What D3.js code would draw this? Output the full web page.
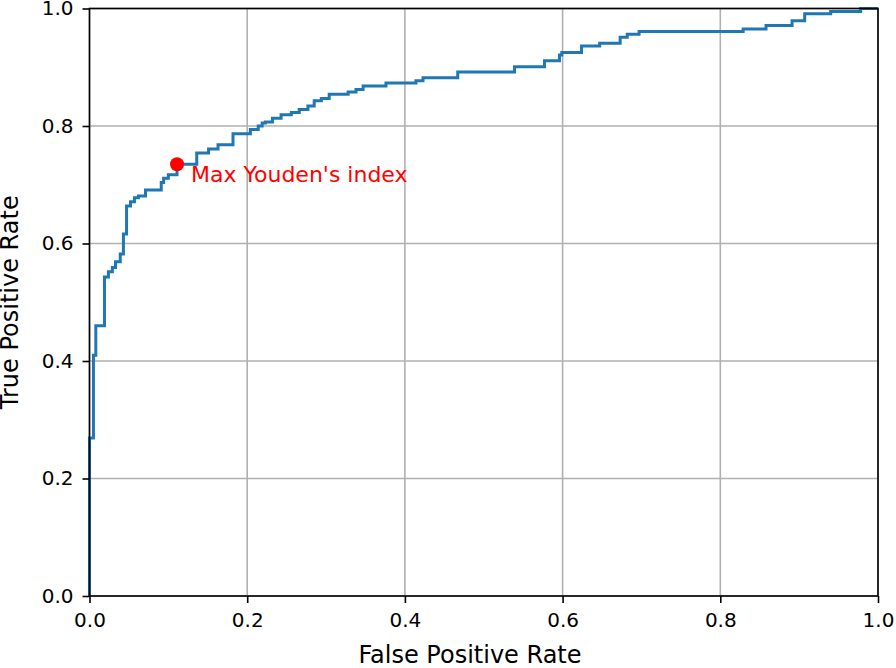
<!DOCTYPE html>
<html><head><meta charset="utf-8">
<script src="https://cdn.jsdelivr.net/npm/d3@7"></script>
<style>body{margin:0;background:#fff}svg{display:block}</style>
</head><body><svg id="c" width="896" height="668"></svg>
<script>
const fpr = [0,0,0.005,0.008,0.019,0.024,0.029,0.033,0.039,0.043,0.047,0.052,0.057,0.062,0.071,0.091,0.094,0.100,0.111,0.136,0.151,0.163,0.182,0.204,0.214,0.219,0.223,0.232,0.243,0.256,0.266,0.277,0.285,0.294,0.304,0.328,0.338,0.347,0.376,0.414,0.423,0.467,0.539,0.577,0.596,0.599,0.624,0.647,0.673,0.682,0.697,0.829,0.858,0.891,0.907,0.940,0.978,1.0];
const tpr = [0,0.269,0.41,0.46,0.543,0.552,0.559,0.569,0.582,0.616,0.664,0.671,0.678,0.681,0.691,0.704,0.711,0.717,0.735,0.754,0.761,0.768,0.787,0.794,0.800,0.805,0.807,0.813,0.819,0.823,0.828,0.834,0.843,0.847,0.854,0.858,0.862,0.868,0.873,0.877,0.882,0.892,0.901,0.911,0.921,0.925,0.936,0.941,0.951,0.956,0.961,0.965,0.971,0.979,0.991,0.995,1.0,1.0];
const youden = {fpr:0.111, tpr:0.735, label:"Max Youden's index"};
const ticks = [0,0.2,0.4,0.6,0.8,1.0];

const svg = d3.select("#c");
const L=89.5, R=878, T=8.5, B=596;
const x = d3.scaleLinear().domain([0,1]).range([L,R]);
const y = d3.scaleLinear().domain([0,1]).range([B,T]);
const font = "DejaVu Sans";

// grid
svg.append("g").selectAll("line").data(ticks).join("line")
  .attr("x1",d=>x(d)).attr("x2",d=>x(d)).attr("y1",T).attr("y2",B)
  .attr("stroke","#b0b0b0").attr("stroke-width",1.6);
svg.append("g").selectAll("line").data(ticks).join("line")
  .attr("y1",d=>y(d)).attr("y2",d=>y(d)).attr("x1",L).attr("x2",R)
  .attr("stroke","#b0b0b0").attr("stroke-width",1.6);

// curve
const pts = fpr.map((f,i)=>[f,tpr[i]]);
svg.append("path").datum(pts)
  .attr("d", d3.line().x(d=>x(d[0])).y(d=>y(d[1])).curve(d3.curveStepAfter))
  .attr("fill","none").attr("stroke","#1f77b4").attr("stroke-width",3).attr("stroke-linejoin","miter");

// axes
const xa = svg.append("g").attr("transform",`translate(0,${B})`)
  .call(d3.axisBottom(x).tickValues(ticks).tickFormat(d3.format(".1f")).tickSizeOuter(0).tickSize(7).tickPadding(10));
const ya = svg.append("g").attr("transform",`translate(${L},0)`)
  .call(d3.axisLeft(y).tickValues(ticks).tickFormat(d3.format(".1f")).tickSizeOuter(0).tickSize(7).tickPadding(9));
[xa,ya].forEach(g=>{
  g.select(".domain").remove();
  g.selectAll("line").attr("stroke","#000").attr("stroke-width",1.6);
  g.selectAll("text").attr("font-family",font).attr("font-size",20).attr("fill","#000");
});
// frame
svg.append("rect").attr("x",L).attr("y",T).attr("width",R-L).attr("height",B-T)
  .attr("fill","none").attr("stroke","#000").attr("stroke-width",1.6);

// dot + label
svg.append("circle").attr("cx",x(youden.fpr)).attr("cy",y(youden.tpr)).attr("r",7).attr("fill","#ff0000");
svg.append("text").attr("x",191).attr("y",182)
  .attr("font-family",font).attr("font-size",22).attr("fill","#ff0000").text(youden.label);

// labels
svg.append("text").attr("x",470).attr("y",663).attr("text-anchor","middle")
  .attr("font-family",font).attr("font-size",24).text("False Positive Rate");
svg.append("text").attr("transform",`translate(18,${(T+B)/2}) rotate(-90)`).attr("text-anchor","middle")
  .attr("font-family",font).attr("font-size",24).text("True Positive Rate");
</script></body></html>
